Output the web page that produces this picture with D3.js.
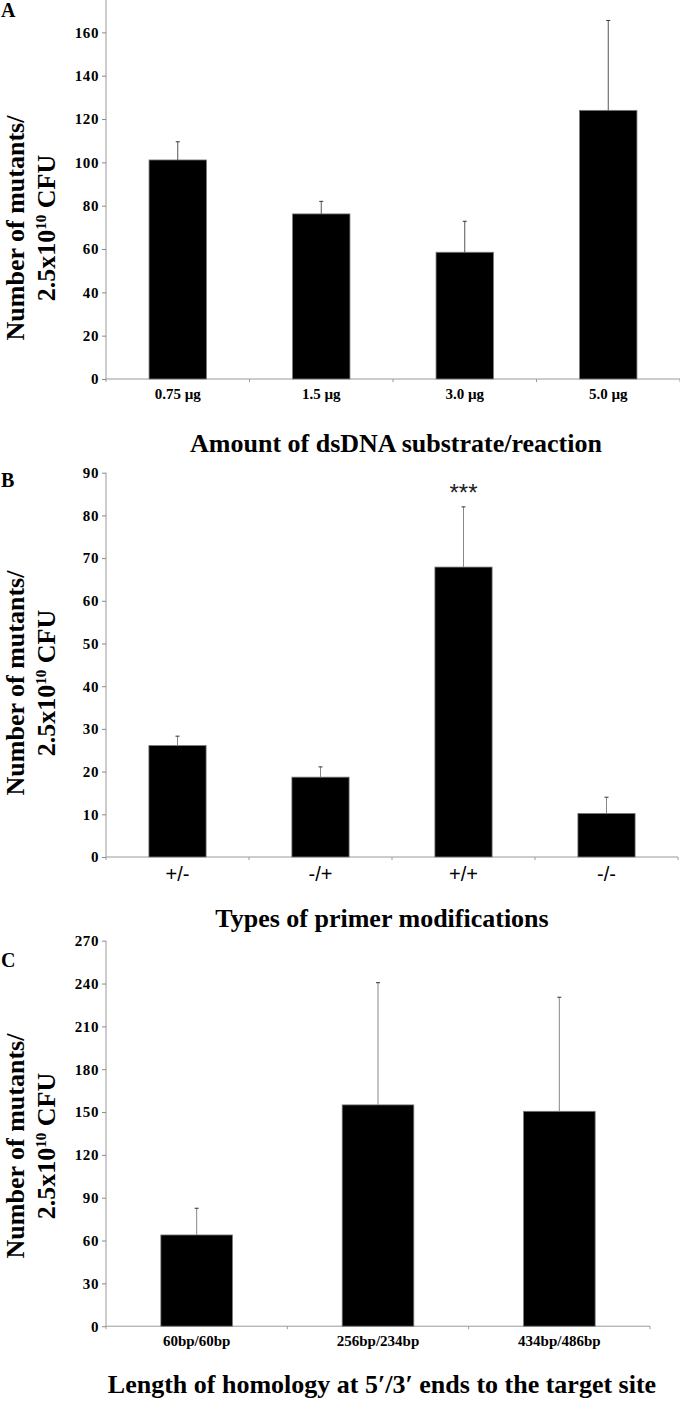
<!DOCTYPE html>
<html>
<head>
<meta charset="utf-8">
<script src="https://cdn.jsdelivr.net/npm/d3@7"></script>
<style>
  html, body { margin: 0; padding: 0; background: #fff; }
  svg { display: block; }
</style>
</head>
<body>
<svg id="chart" width="680" height="1403"></svg>
<script>
// ---------- DATA ----------
const catsA = ["0.75 \u00b5g", "1.5 \u00b5g", "3.0 \u00b5g", "5.0 \u00b5g"];
const valsA = [101.1, 76.2, 58.5, 124.0];
const errTopA = [109.5, 82.0, 72.8, 165.5];
const ticksA = [0, 20, 40, 60, 80, 100, 120, 140, 160];

const catsB = ["+/-", "-/+", "+/+", "-/-"];
const valsB = [26.1, 18.7, 67.9, 10.2];
const errTopB = [28.3, 21.1, 82.0, 14.0];
const ticksB = [0, 10, 20, 30, 40, 50, 60, 70, 80, 90];
const sigB = ["", "", "***", ""];

const catsC = ["60bp/60bp", "256bp/234bp", "434bp/486bp"];
const valsC = [63.9, 155.0, 150.5];
const errTopC = [82.6, 240.6, 230.4];
const ticksC = [0, 30, 60, 90, 120, 150, 180, 210, 240, 270];

const panelLabels = ["A", "B", "C"];
const xTitles = [
  "Amount of dsDNA substrate/reaction",
  "Types of primer modifications",
  "Length of homology at 5\u2032/3\u2032 ends to the target site"
];
const yTitleLine1 = "Number of mutants/";

// ---------- DRAW ----------
const svg = d3.select("#chart");
const SERIF = "'Liberation Serif', 'Times New Roman', serif";
const SANS = "'Liberation Sans', Arial, sans-serif";

function panel(cfg) {
  const g = svg.append("g");
  const y = d3.scaleLinear().domain(cfg.yDomain).range([cfg.y0, cfg.yTop]);
  const x = d3.scaleBand().domain(cfg.cats).range([cfg.xL, cfg.xR])
    .paddingInner(cfg.padIn).paddingOuter(cfg.padOut);
  const xb = d3.scaleLinear().domain([0, cfg.cats.length]).range([cfg.xL, cfg.xR]);

  // y axis
  const ya = d3.axisLeft(y).tickValues(cfg.ticks).tickSize(4).tickPadding(3)
    .tickFormat(d3.format("d"));
  const yg = g.append("g").attr("transform", `translate(${cfg.xL},0)`).call(ya);
  yg.select(".domain").attr("stroke", "#9a9a9a").attr("stroke-width", 1)
    .attr("d", `M0,${cfg.y0 + 3}V${y(cfg.yDomain[1])}`);
  yg.selectAll(".tick line").attr("stroke", "#8a8a8a");
  yg.selectAll(".tick text").attr("font-family", SERIF).attr("font-weight", "bold")
    .attr("font-size", "15px").attr("letter-spacing", "0.6px").attr("fill", "#000");

  // x axis line and boundary ticks
  g.append("line").attr("x1", cfg.xL).attr("x2", cfg.xR)
    .attr("y1", cfg.y0).attr("y2", cfg.y0).attr("stroke", "#9a9a9a");
  g.selectAll("line.bt").data(d3.range(1, cfg.cats.length + 1)).join("line")
    .attr("class", "bt")
    .attr("x1", d => xb(d)).attr("x2", d => xb(d))
    .attr("y1", cfg.y0).attr("y2", cfg.y0 + 3).attr("stroke", "#9a9a9a");

  // bars
  g.selectAll("rect.bar").data(cfg.vals).join("rect").attr("class", "bar")
    .attr("x", (d, i) => x(cfg.cats[i]))
    .attr("width", x.bandwidth())
    .attr("y", d => y(d))
    .attr("height", d => cfg.y0 - y(d))
    .attr("fill", "#000").attr("stroke", "#7a7a7a").attr("stroke-width", 0.8);

  // error bars (upper only)
  const cx = i => x(cfg.cats[i]) + x.bandwidth() / 2;
  g.selectAll("line.err").data(cfg.errTop).join("line").attr("class", "err")
    .attr("x1", (d, i) => cx(i)).attr("x2", (d, i) => cx(i))
    .attr("y1", (d, i) => y(cfg.vals[i])).attr("y2", d => y(d))
    .attr("stroke", cfg.errColor).attr("stroke-width", 1);
  g.selectAll("line.cap").data(cfg.errTop).join("line").attr("class", "cap")
    .attr("x1", (d, i) => cx(i) - 2).attr("x2", (d, i) => cx(i) + 2)
    .attr("y1", d => y(d)).attr("y2", d => y(d))
    .attr("stroke", "#333").attr("stroke-width", 1);

  // significance
  if (cfg.sig) {
    g.selectAll("text.sig").data(cfg.sig).join("text").attr("class", "sig")
      .attr("x", (d, i) => cx(i)).attr("y", cfg.sigY)
      .attr("text-anchor", "middle").attr("font-family", SANS)
      .attr("font-size", "24px").attr("fill", "#222").text(d => d);
  }

  // category labels
  g.selectAll("text.cat").data(cfg.cats).join("text").attr("class", "cat")
    .attr("x", d => x(d) + x.bandwidth() / 2).attr("y", cfg.catY)
    .attr("text-anchor", "middle")
    .attr("font-family", cfg.catFont).attr("font-weight", cfg.catWeight)
    .attr("font-size", cfg.catSize).attr("fill", "#000").text(d => d);

  // x title
  g.append("text").attr("x", cfg.titleX).attr("y", cfg.titleY)
    .attr("text-anchor", "middle").attr("font-family", SERIF)
    .attr("font-weight", "bold").attr("font-size", "26px").attr("fill", "#000")
    .text(cfg.title);

  // y title (two rotated lines)
  g.append("text").attr("transform", `translate(24,${cfg.yTitleC}) rotate(-90)`)
    .attr("text-anchor", "middle").attr("font-family", SERIF)
    .attr("font-weight", "bold").attr("font-size", "26px").attr("fill", "#000")
    .text(yTitleLine1);
  const t2 = g.append("text").attr("transform", `translate(55,${cfg.yTitleC}) rotate(-90)`)
    .attr("text-anchor", "middle").attr("font-family", SERIF)
    .attr("font-weight", "bold").attr("font-size", "26px").attr("fill", "#000");
  t2.append("tspan").text("2.5x10");
  t2.append("tspan").attr("font-size", "15px").attr("dy", "-9").text("10");
  t2.append("tspan").attr("dy", "9").text(" CFU");

  // panel label
  g.append("text").attr("x", 1).attr("y", cfg.labelY)
    .attr("font-family", SERIF).attr("font-weight", "bold")
    .attr("font-size", "20px").attr("fill", "#000").text(cfg.label);
}

panel({
  cats: catsA, vals: valsA, errTop: errTopA, ticks: ticksA,
  yDomain: [0, 180], y0: 379, yTop: 379 - 9 * 43.33,
  xL: 106, xR: 680, padIn: 0.6, padOut: 0.3, errColor: "#555",
  catY: 399, catFont: SERIF, catWeight: "bold", catSize: "15px",
  title: xTitles[0], titleX: 396, titleY: 452,
  yTitleC: 228, label: panelLabels[0], labelY: 17
});

panel({
  cats: catsB, vals: valsB, errTop: errTopB, ticks: ticksB, sig: sigB, sigY: 501,
  yDomain: [0, 90], y0: 857, yTop: 472.7,
  xL: 106, xR: 678, padIn: 0.6, padOut: 0.3, errColor: "#888",
  catY: 881, catFont: SANS, catWeight: "normal", catSize: "20px",
  title: xTitles[1], titleX: 382, titleY: 927,
  yTitleC: 683, label: panelLabels[1], labelY: 487
});

panel({
  cats: catsC, vals: valsC, errTop: errTopC, ticks: ticksC,
  yDomain: [0, 270], y0: 1326.2, yTop: 940.7,
  xL: 106, xR: 650, padIn: 0.605, padOut: 0.3025, errColor: "#888",
  catY: 1346, catFont: SERIF, catWeight: "bold", catSize: "15px",
  title: xTitles[2], titleX: 382, titleY: 1393,
  yTitleC: 1146, label: panelLabels[2], labelY: 967
});
</script>
</body>
</html>
